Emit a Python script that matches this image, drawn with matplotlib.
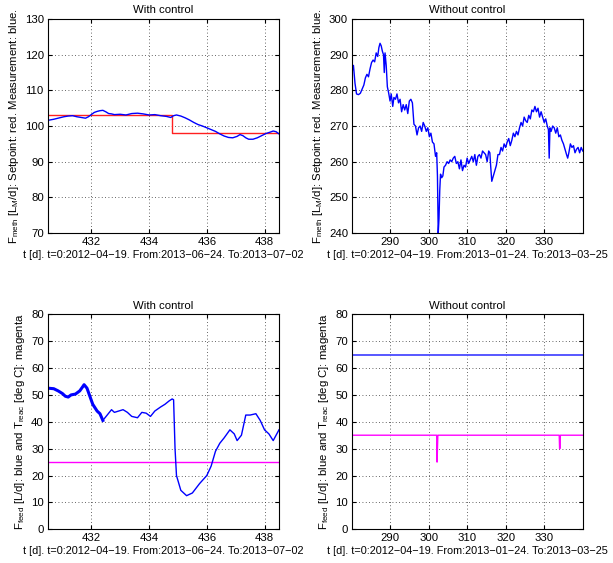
import matplotlib
matplotlib.use("Agg")
import matplotlib.pyplot as plt

plt.rcParams['font.family'] = ['Liberation Sans', 'DejaVu Sans']
plt.rcParams['mathtext.fontset'] = 'custom'
plt.rcParams['mathtext.rm'] = 'Liberation Sans'
plt.rcParams['mathtext.it'] = 'Liberation Sans:italic'

# --- top left: methane flow with control ---
tl_t = [430.5, 430.7, 430.9, 431.05, 431.2, 431.35, 431.5, 431.65, 431.8, 431.9, 432.0,
        432.1, 432.2, 432.3, 432.4, 432.5, 432.6, 432.7, 432.8, 433.0, 433.2, 433.4,
        433.6, 433.8, 434.0, 434.2, 434.4, 434.6, 434.75, 434.85, 434.95, 435.1,
        435.25, 435.4, 435.55, 435.7, 435.85, 436.0, 436.15, 436.3, 436.45, 436.6,
        436.75, 436.9, 437.05, 437.15, 437.25, 437.35, 437.45, 437.6, 437.75,
        437.9, 438.05, 438.2, 438.3, 438.4, 438.5]
tl_meas = [101.6, 101.9, 102.3, 102.6, 102.8, 102.9, 102.6, 102.4, 102.2, 102.6, 103.2,
           103.8, 104.1, 104.3, 104.4, 104.0, 103.5, 103.4, 103.2, 103.3, 103.1, 103.5,
           103.6, 103.4, 103.1, 103.2, 102.9, 102.7, 102.4, 102.9, 103.1, 102.8,
           102.3, 101.7, 101.0, 100.4, 100.0, 99.5, 99.0, 98.5, 97.8, 97.2,
           96.8, 96.7, 97.1, 97.6, 97.3, 96.7, 96.3, 96.3, 96.7,
           97.3, 97.9, 98.3, 98.6, 98.4, 97.8]
tl_sp_t = [430.5, 434.8, 434.8, 438.5]
tl_sp = [103, 103, 98, 98]

# --- top right: methane flow without control ---
tr_t = [280.2, 280.5, 280.9, 281.3, 281.8, 282.3, 282.8, 283.2, 283.6, 284.0, 284.4,
        284.8, 285.2, 285.6, 286.0, 286.4, 286.8, 287.1, 287.4, 287.7, 288.0, 288.3,
        288.5, 288.7, 289.0, 289.3, 289.6, 290.0, 290.3, 290.7, 291.0, 291.4, 291.8,
        292.2, 292.6, 293.0, 293.4, 293.8, 294.2, 294.6, 295.0, 295.4, 295.8, 296.2,
        296.6, 297.0, 297.4, 297.8, 298.2, 298.6, 299.0, 299.4, 299.8, 300.2, 300.6,
        301.0, 301.4, 301.8, 302.1, 302.3, 302.5, 302.7, 302.9, 303.1, 303.4, 303.7,
        304.0, 304.4, 304.8, 305.2, 305.6, 306.0, 306.4, 306.8, 307.2, 307.6, 308.0,
        308.4, 308.8, 309.2, 309.6, 310.0, 310.4, 310.8, 311.2, 311.6, 312.0, 312.4,
        312.8, 313.2, 313.6, 314.0, 314.4, 314.8, 315.2, 315.6, 315.9, 316.1, 316.4,
        316.8, 317.2, 317.6, 318.0, 318.4, 318.8, 319.2, 319.6, 320.0, 320.4, 320.8,
        321.2, 321.6, 322.0, 322.4, 322.8, 323.2, 323.6, 324.0, 324.4, 324.8, 325.2,
        325.6, 326.0, 326.4, 326.8, 327.2, 327.6, 328.0, 328.4, 328.8, 329.2, 329.6,
        330.0, 330.4, 330.8, 331.1, 331.3, 331.5, 331.8, 332.2, 332.6, 333.0, 333.4,
        333.8, 334.2, 334.6, 335.0, 335.4, 335.8, 336.1, 336.4, 336.8, 337.2, 337.6,
        338.0, 338.4, 338.8, 339.2, 339.6, 340.0]
tr_meas = [285.5, 287.0, 282.0, 279.0, 278.8, 279.2, 280.5, 281.5, 283.5, 284.5, 283.8,
           286.0, 287.8, 288.5, 288.0, 290.5, 289.5, 292.0, 293.2, 292.5, 291.0, 290.0,
           285.0, 290.5, 287.0, 281.0, 279.5, 277.0, 279.0, 275.5, 278.0, 277.5, 279.0,
           276.5, 277.5, 274.0, 276.0, 274.5, 276.0, 273.5, 277.0, 277.5, 276.5, 270.5,
           270.0, 267.5, 269.5, 270.0, 268.5, 271.0, 270.0, 268.5, 269.5, 267.0, 268.0,
           265.5, 265.0, 261.5, 262.5, 256.0, 240.0, 244.0, 252.0, 256.5, 255.5, 256.0,
           258.5, 259.0, 260.0, 259.5, 260.5, 260.0, 261.0, 261.5, 259.5, 260.0, 258.0,
           260.5, 257.5, 259.0, 258.5, 261.0, 259.5, 260.5, 261.5, 260.0, 262.0, 259.0,
           261.5, 262.0, 261.0, 263.0, 262.5, 262.0, 260.0, 263.0, 262.5, 259.0, 254.5,
           256.0, 257.5, 259.0, 262.0, 262.0, 264.0, 263.0, 265.0, 264.0, 265.5, 266.5,
           264.5, 266.0, 268.0, 267.0, 268.5, 267.5, 269.5, 271.0, 270.0, 272.5, 271.5,
           271.0, 273.0, 272.0, 274.5, 274.0, 275.5, 274.0, 275.0, 272.5, 274.0, 272.5,
           271.0, 272.0, 270.0, 269.0, 261.0, 269.5, 268.5, 270.0, 269.5, 268.0, 269.5,
           267.0, 267.5, 266.0, 265.0, 263.5, 262.0, 261.0, 262.5, 265.0, 264.0, 264.5,
           262.5, 263.5, 264.0, 262.5, 264.0, 263.0]

# --- bottom left: feed flow and temperature with control ---
bl_t = [430.5, 430.7, 430.85, 431.0, 431.1, 431.2, 431.3, 431.45, 431.6, 431.7, 431.75,
        431.85, 431.95, 432.05, 432.2, 432.3, 432.4, 432.55, 432.7, 432.8, 432.95,
        433.1, 433.25, 433.4, 433.6, 433.75, 433.9, 434.05, 434.2, 434.4, 434.55,
        434.7, 434.8, 434.85, 434.9, 434.95, 435.1, 435.3, 435.5, 435.75, 436.0,
        436.15, 436.3, 436.45, 436.6, 436.8, 436.95, 437.05, 437.2, 437.35, 437.5,
        437.7, 437.85, 438.0, 438.15, 438.3, 438.4, 438.5]
bl_feed = [52.5, 52.3, 51.5, 50.5, 49.5, 49.2, 50.0, 50.3, 51.5, 53.0, 53.8,
           52.5, 49.5, 46.5, 44.0, 43.0, 40.5, 42.5, 44.5, 43.5, 44.0,
           44.5, 43.5, 42.0, 41.5, 43.5, 43.2, 42.0, 44.0, 45.5, 46.5,
           47.8, 48.5, 48.2, 30.0, 20.0, 14.5, 12.5, 13.5, 17.0, 20.0,
           23.5, 29.0, 32.0, 34.0, 37.0, 35.5, 33.0, 35.0, 42.5, 42.5,
           43.0, 40.5, 37.0, 35.5, 33.0, 35.0, 37.0]
bl_temp_t = [430.5, 438.5]
bl_temp = [25, 25]

# --- bottom right: feed flow and temperature without control ---
br_feed_t = [280.2, 340.0]
br_feed = [65, 65]
br_temp_t = [280.2, 302.1, 302.2, 302.4, 302.5, 333.9, 334.0, 334.1, 334.2, 340.0]
br_temp = [35, 35, 25, 35, 35, 35, 30, 30, 35, 35]

xlab_a = 't [d]. t=0:2012\u221204\u221219. From:2013\u221206\u221224. To:2013\u221207\u221202'
xlab_b = 't [d]. t=0:2012\u221204\u221219. From:2013\u221201\u221224. To:2013\u221203\u221225'
ylab_top = r'F$_{\mathrm{meth}}$ [L$_{\mathrm{M}}$/d]: Setpoint: red. Measurement: blue.'
ylab_bot = r'F$_{\mathrm{feed}}$ [L/d]: blue and T$_{\mathrm{reac}}$ [deg C]: magenta'

FS = 8.2


def style(ax, xlim, ylim, xticks, yticks, title, xlabel, ylabel):
    ax.set_xlim(xlim)
    ax.set_ylim(ylim)
    ax.set_xticks(xticks)
    ax.set_yticks(yticks)
    ax.tick_params(direction='in', top=True, right=True, length=3, labelsize=FS, pad=3)
    ax.grid(True, color='#333333', linestyle=(0, (1, 3)), linewidth=0.6)
    ax.set_title(title, fontsize=FS, pad=4)
    ax.set_xlabel(xlabel, fontsize=7.8, labelpad=2)
    ax.set_ylabel(ylabel, fontsize=FS, labelpad=3)
    for s in ax.spines.values():
        s.set_linewidth(0.8)


fig = plt.figure(figsize=(6.13, 5.63), dpi=100)
ax1 = fig.add_axes([0.0783, 0.5861, 0.3768, 0.3801])
ax2 = fig.add_axes([0.5747, 0.5861, 0.3759, 0.3801])
ax3 = fig.add_axes([0.0783, 0.0599, 0.3768, 0.3819])
ax4 = fig.add_axes([0.5747, 0.0599, 0.3759, 0.3819])

ax1.plot(tl_sp_t, tl_sp, color='#ff2020', lw=1.0)
ax1.plot(tl_t, tl_meas, color='#0000ff', lw=1.0)
style(ax1, (430.5, 438.5), (70, 130), [432, 434, 436, 438], range(70, 131, 10),
      'With control', xlab_a, ylab_top)

ax2.plot(tr_t, tr_meas, color='#0000ff', lw=1.0)
style(ax2, (280.2, 340.0), (240, 300), [290, 300, 310, 320, 330], range(240, 301, 10),
      'Without control', xlab_b, ylab_top)

ax3.plot(bl_temp_t, bl_temp, color='#ff00ff', lw=1.0)
ax3.plot(bl_t[:17], bl_feed[:17], color='#0000ff', lw=2.2)
ax3.plot(bl_t[16:], bl_feed[16:], color='#0000ff', lw=1.0)
style(ax3, (430.5, 438.5), (0, 80), [432, 434, 436, 438], range(0, 81, 10),
      'With control', xlab_a, ylab_bot)

ax4.plot(br_feed_t, br_feed, color='#4a4aff', lw=1.3)
ax4.plot(br_temp_t, br_temp, color='#ff00ff', lw=1.0)
style(ax4, (280.2, 340.0), (0, 80), [290, 300, 310, 320, 330], range(0, 81, 10),
      'Without control', xlab_b, ylab_bot)

fig.savefig('out.png', dpi=100)
